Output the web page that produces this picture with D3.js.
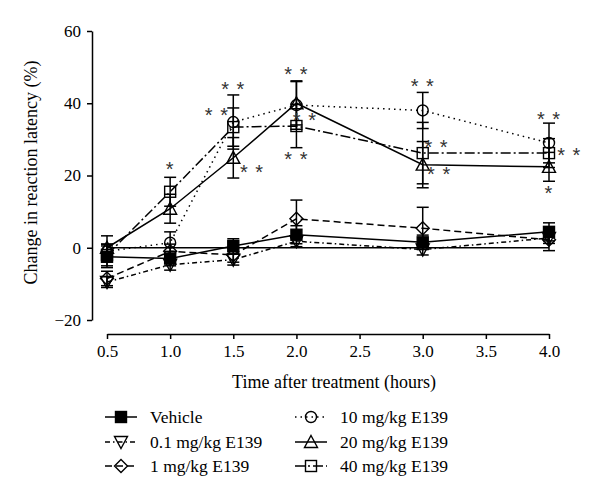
<!DOCTYPE html>
<html><head><meta charset="utf-8">
<script src="https://cdn.jsdelivr.net/npm/d3@7/dist/d3.min.js"></script>
<style>body{margin:0;background:#fff}svg{display:block}</style>
</head><body>
<svg id="c" width="600" height="498"></svg>
<script>
const times = [0.5, 1.0, 1.5, 2.0, 3.0, 4.0];
const xTicks = [0.5, 1.0, 1.5, 2.0, 2.5, 3.0, 3.5, 4.0];
const yTicks = [-20, 0, 20, 40, 60];
const seriesNames = ["Vehicle", "0.1 mg/kg E139", "1 mg/kg E139", "10 mg/kg E139", "20 mg/kg E139", "40 mg/kg E139"];
const vehicle = [-2.5, -3.0, 0.5, 3.6, 1.5, 4.4];
const vehicleErr = [3, 2, 2, 2.5, 2, 2.5];
const d01 = [-9.5, -4.7, -3.3, 1.8, -0.5, 2.7];
const d01Err = [1.5, 1.5, 1.5, 1.5, 1.5, 1.5];
const d1 = [-8.5, -1.0, -2.0, 8.0, 5.4, 2.2];
const d1Err = [2, 2, 2, 5.2, 5.8, 3];
const d10 = [-1.0, 1.4, 34.8, 39.5, 38.0, 29.0];
const d10Err = [2, 3, 7.5, 6.7, 5, 5.5];
const d20 = [0.0, 10.8, 24.9, 40.0, 23.0, 22.4];
const d20Err = [3.3, 4, 5.6, 6, 6.4, 4];
const d40 = [-2.0, 15.5, 33.4, 33.7, 26.2, 26.2];
const d40Err = [3, 4, 5.3, 6, 8.5, 4];
const stars = [
  [1.0, 22.4, "*"], [1.5, 44.5, "**"], [1.37, 37.3, "**"], [1.648, 21.5, "**"],
  [2.0, 48.6, "**"], [2.067, 35.9, "**"], [2.0, 25.1, "**"],
  [3.0, 45.3, "**"], [3.11, 28.5, "**"], [3.13, 21.0, "**"],
  [4.0, 36.2, "**"], [4.16, 26.2, "**"], [4.0, 15.7, "*"]
];

const styles = [
  {sym: "square", fill: "#000", dash: null},
  {sym: "tridown", fill: "none", dash: "5,3,1.5,3"},
  {sym: "diamond", fill: "none", dash: "7,4"},
  {sym: "circle", fill: "none", dash: "1.5,4"},
  {sym: "triup", fill: "none", dash: null},
  {sym: "square", fill: "none", dash: "10,3,2,3"}
];
const vals = [vehicle, d01, d1, d10, d20, d40];
const errs = [vehicleErr, d01Err, d1Err, d10Err, d20Err, d40Err];

const svg = d3.select("#c");
const x = d3.scaleLinear().domain([0.5, 4.0]).range([107, 549]);
const y = d3.scaleLinear().domain([-20, 60]).range([320, 31]);
const FONT = "'Liberation Serif', 'DejaVu Serif', serif";

// axes
const yAx = svg.append("g").attr("transform", "translate(92,0)")
  .call(d3.axisLeft(y).tickValues(yTicks).tickSize(5).tickSizeOuter(0).tickFormat(d => d < 0 ? "\u2212" + Math.abs(d) : d));
const xAx = svg.append("g").attr("transform", "translate(0,334)")
  .call(d3.axisBottom(x).tickValues(xTicks).tickSize(5).tickSizeOuter(0).tickFormat(d3.format(".1f")));
[yAx, xAx].forEach(g => {
  g.selectAll("path,line").attr("stroke", "#000").attr("stroke-width", 1.5);
  g.selectAll("text").attr("font-family", FONT).attr("font-size", 17).attr("fill", "#000");
});
yAx.selectAll("text").attr("x", -11);
xAx.selectAll("text").attr("y", 11);

// zero reference line
svg.append("line").attr("x1", x(0.5)).attr("x2", x(4.0)).attr("y1", y(0)).attr("y2", y(0))
  .attr("stroke", "#000").attr("stroke-width", 1.5);

// axis titles
svg.append("text").attr("transform", `translate(37,${y(20) - 3}) rotate(-90)`).attr("text-anchor", "middle")
  .attr("font-family", FONT).attr("font-size", 18).attr("fill", "#000").text("Change in reaction latency (%)");
svg.append("text").attr("x", 334).attr("y", 388).attr("text-anchor", "middle")
  .attr("font-family", FONT).attr("font-size", 18).attr("fill", "#000").text("Time after treatment (hours)");

function drawSym(g, type, cx, cy, fill) {
  const s = 5.5;
  let el;
  if (type === "square") el = g.append("rect").attr("x", cx - s).attr("y", cy - s).attr("width", 2 * s).attr("height", 2 * s);
  else if (type === "circle") el = g.append("circle").attr("cx", cx).attr("cy", cy).attr("r", s);
  else if (type === "diamond") el = g.append("path").attr("d", `M${cx},${cy - s - 1}L${cx + s + 1},${cy}L${cx},${cy + s + 1}L${cx - s - 1},${cy}Z`);
  else if (type === "triup") el = g.append("path").attr("d", `M${cx},${cy - s - 1}L${cx + s + 1},${cy + s}L${cx - s - 1},${cy + s}Z`);
  else if (type === "tridown") el = g.append("path").attr("d", `M${cx},${cy + s + 1}L${cx + s + 1},${cy - s}L${cx - s - 1},${cy - s}Z`);
  el.attr("fill", fill).attr("stroke", "#000").attr("stroke-width", 1.4);
}

const line = d3.line().x(d => x(d[0])).y(d => y(d[1]));
const plot = svg.append("g");
vals.forEach((v, i) => {
  const pts = times.map((t, j) => [t, v[j]]);
  plot.append("path").attr("d", line(pts)).attr("fill", "none").attr("stroke", "#000")
    .attr("stroke-width", 1.5).attr("stroke-dasharray", styles[i].dash);
  times.forEach((t, j) => {
    const lo = y(v[j] - errs[i][j]), hi = y(v[j] + errs[i][j]), cx = x(t);
    plot.append("line").attr("x1", cx).attr("x2", cx).attr("y1", lo).attr("y2", hi).attr("stroke", "#000").attr("stroke-width", 1.5);
    [lo, hi].forEach(yy => plot.append("line").attr("x1", cx - 6).attr("x2", cx + 6).attr("y1", yy).attr("y2", yy).attr("stroke", "#000").attr("stroke-width", 1.5));
  });
});
vals.forEach((v, i) => {
  times.forEach((t, j) => drawSym(plot, styles[i].sym, x(t), y(v[j]), styles[i].fill));
});

// significance stars
stars.forEach(s => {
  svg.append("text").attr("x", x(s[0])).attr("y", y(s[1]) + 9).attr("text-anchor", "middle")
    .attr("font-family", "'Liberation Sans', 'DejaVu Sans', sans-serif").attr("font-size", 20)
    .attr("fill", "#333").attr("letter-spacing", 1)
    .text(s[2] === "**" ? "* *" : "*");
});

// legend
const leg = svg.append("g");
const legPos = [[105, 417], [105, 442], [105, 466], [295, 417], [295, 442], [295, 466]];
seriesNames.forEach((name, i) => {
  const [lx, ly] = legPos[i];
  leg.append("line").attr("x1", lx).attr("x2", lx + 32).attr("y1", ly).attr("y2", ly)
    .attr("stroke", "#000").attr("stroke-width", 1.5).attr("stroke-dasharray", styles[i].dash);
  drawSym(leg, styles[i].sym, lx + 16, ly, styles[i].fill);
  leg.append("text").attr("x", lx + 45).attr("y", ly + 6).attr("font-family", FONT).attr("font-size", 17.5).attr("fill", "#000").text(name);
});
</script>
</body></html>
